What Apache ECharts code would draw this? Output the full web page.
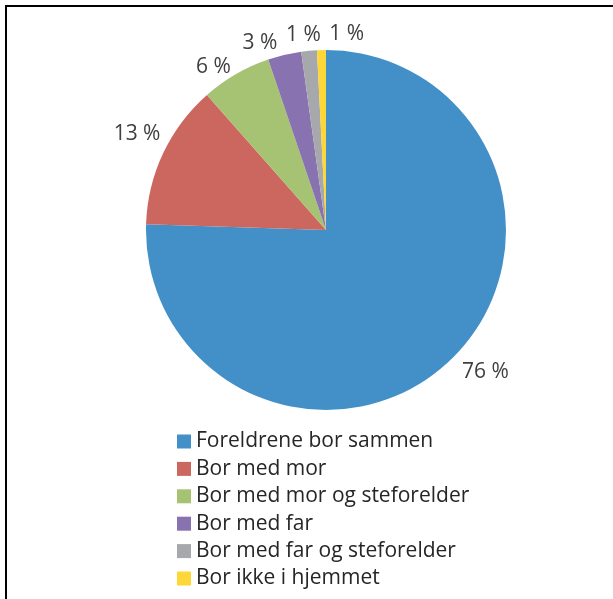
<!DOCTYPE html>
<html>
<head>
<meta charset="utf-8">
<script src="https://cdn.jsdelivr.net/npm/echarts@6/dist/echarts.min.js"></script>
<style>
  html, body { margin: 0; padding: 0; background: #fff; }
  #frame { position: absolute; left: 5px; top: 5px; width: 700px; height: 700px;
    border-left: 2px solid #000; border-top: 2px solid #000; }
  #chart { position: absolute; left: 0; top: 0; width: 613px; height: 599px; }
</style>
</head>
<body>
<div id="frame"></div>
<div id="chart"></div>
<script>
var categories = [
  'Foreldrene bor sammen',
  'Bor med mor',
  'Bor med mor og steforelder',
  'Bor med far',
  'Bor med far og steforelder',
  'Bor ikke i hjemmet'
]
var values = [75.5, 13.0, 6.3, 3.0, 1.4, 0.8]
var colors = ['#4390c9', '#cc6760', '#a6c273', '#8873b0', '#a6a8ab', '#fdd638']

var chart = echarts.init(document.getElementById('chart'))

var data = categories.map(function (name, i) {
  return { name: name, value: values[i], itemStyle: { color: colors[i] } }
})

// nudges so the labels sit where the original layout put them
var labelShift = [[-8, 3], [19, -13], [11, 5], [5, 2], [22, -2], [52, -2]]

chart.setOption({
  animation: false,
  legend: {
    orient: 'vertical',
    left: 172,
    top: 426,
    itemWidth: 14,
    itemHeight: 14,
    itemGap: 6.4,
    icon: 'rect',
    textStyle: {
      fontFamily: 'Open Sans',
      fontSize: 21,
      lineHeight: 21,
      color: '#262626'
    },
    data: categories
  },
  series: [
    {
      type: 'pie',
      center: [326, 230],
      radius: 180,
      startAngle: 90,
      clockwise: true,
      avoidLabelOverlap: false,
      label: {
        show: true,
        position: 'outside',
        fontFamily: 'Open Sans',
        fontSize: 21,
        color: '#404040',
        formatter: function (p) {
          return Math.round(p.percent) + ' %'
        }
      },
      labelLine: { show: false, length: 14, length2: 4 },
      labelLayout: function (params) {
        var s = labelShift[params.dataIndex]
        return { dx: s[0], dy: s[1] }
      },
      emphasis: { disabled: true },
      data: data
    }
  ]
})
</script>
</body>
</html>
